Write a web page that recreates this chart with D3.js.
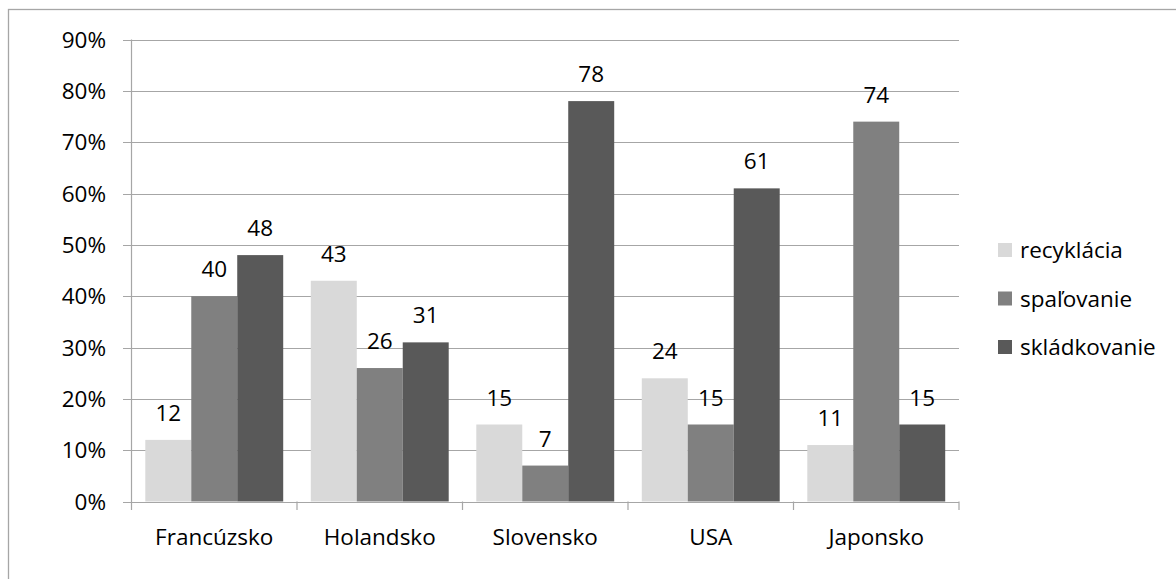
<!DOCTYPE html>
<html><head><meta charset="utf-8">
<script src="https://cdn.jsdelivr.net/npm/d3@7/dist/d3.min.js"></script>
<style>body{margin:0;background:#fff}svg{display:block}text{font-family:"Open Sans",sans-serif;fill:#000}</style>
</head><body><svg id="c" width="1176" height="579"></svg>
<script>
const categories = ["Francúzsko","Holandsko","Slovensko","USA","Japonsko"];
const seriesNames = ["recyklácia","spaľovanie","skládkovanie"];
const recyklacia = [12,43,15,24,11];
const spalovanie = [40,26,7,15,74];
const skladkovanie = [48,31,78,61,15];
const yTicks = [0,10,20,30,40,50,60,70,80,90];
const colors = ["#d9d9d9","#808080","#595959"];
const seriesValues = [recyklacia, spalovanie, skladkovanie];

const svg = d3.select("#c");
const fs = 22.5;
svg.append("rect").attr("x",8.5).attr("y",9.5).attr("width",1200).attr("height",600)
  .attr("fill","none").attr("stroke","#a6a6a6").attr("stroke-width",1.3);

const x0 = d3.scaleBand().domain(categories).range([131.5,959]);
const y = d3.scaleLinear().domain([0,90]).range([501.5,39.5]);
const x1 = d3.scaleBand().domain(seriesNames).range([0,x0.bandwidth()]).paddingOuter(0.3).paddingInner(0);

svg.append("g").selectAll("line").data(yTicks).join("line")
  .attr("x1",123).attr("x2",959).attr("y1",d=>Math.round(y(d))+0.5).attr("y2",d=>Math.round(y(d))+0.5)
  .attr("stroke","#a6a6a6").attr("stroke-width",1.2);
svg.append("line").attr("x1",131.5).attr("x2",131.5).attr("y1",39.5).attr("y2",510)
  .attr("stroke","#a6a6a6").attr("stroke-width",1.2);
const xt = categories.map(c=>x0(c)).concat([959]);
svg.append("g").selectAll("line").data(xt.slice(1)).join("line")
  .attr("x1",d=>d).attr("x2",d=>d).attr("y1",501.5).attr("y2",510)
  .attr("stroke","#a6a6a6").attr("stroke-width",1.2);

const g = svg.append("g");
categories.forEach((c,i)=>{
  seriesNames.forEach((s,j)=>{
    const v = seriesValues[j][i];
    g.append("rect").attr("x",x0(c)+x1(s)).attr("width",x1.bandwidth())
      .attr("y",y(v)).attr("height",y(0)-y(v)).attr("fill",colors[j]);
    g.append("text").attr("x",x0(c)+x1(s)+x1.bandwidth()/2).attr("y",y(v)-19)
      .attr("text-anchor","middle").attr("font-size",fs).text(v);
  });
});

svg.append("g").selectAll("text").data(yTicks).join("text")
  .attr("x",106).attr("y",d=>y(d)+8.2).attr("text-anchor","end").attr("font-size",fs).text(d=>d+"%");
svg.append("g").selectAll("text").data(categories).join("text")
  .attr("x",d=>x0(d)+x0.bandwidth()/2).attr("y",545).attr("text-anchor","middle").attr("font-size",fs).text(d=>d);

const lg = svg.append("g");
seriesNames.forEach((s,j)=>{
  const cy = 250 + j*48.5;
  lg.append("rect").attr("x",998).attr("y",cy-7).attr("width",14).attr("height",14).attr("fill",colors[j]);
  lg.append("text").attr("x",1020).attr("y",cy+8).attr("font-size",fs).text(s);
});
</script></body></html>
